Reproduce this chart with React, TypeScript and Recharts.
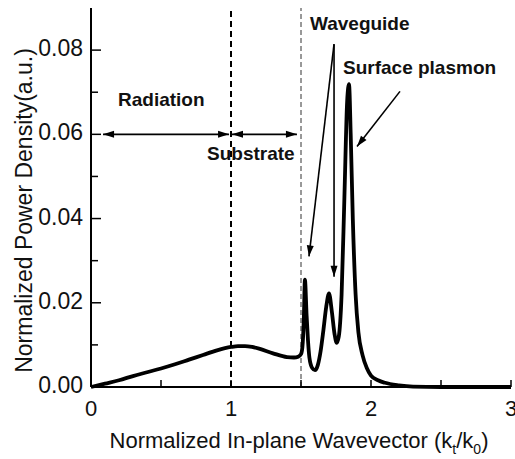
import React from "react";
import { LineChart, Line, XAxis, YAxis, ReferenceLine, ReferenceDot } from "recharts";

// in-plane wavevector kt/k0 and normalized power density
const kx = [
  0, 0.1, 0.2, 0.3, 0.4, 0.5, 0.6, 0.7, 0.8, 0.9, 1.0, 1.05, 1.1, 1.15, 1.2, 1.3, 1.4, 1.45,
  1.48, 1.5, 1.51, 1.52, 1.528, 1.54, 1.55, 1.56, 1.58, 1.6, 1.62, 1.64, 1.66, 1.68, 1.7,
  1.72, 1.74, 1.755, 1.77, 1.79, 1.81, 1.83, 1.843, 1.855, 1.87, 1.89, 1.91, 1.94, 1.97, 2.0,
  2.05, 2.1, 2.2, 2.3, 2.5, 3.0,
];
const density = [
  0, 0.0008, 0.0016, 0.0026, 0.0035, 0.0044, 0.0054, 0.0065, 0.0076, 0.0087, 0.0095, 0.0097,
  0.0097, 0.0095, 0.0091, 0.008, 0.0071, 0.007, 0.0072, 0.0078, 0.0095, 0.016, 0.0255, 0.017,
  0.011, 0.007, 0.0045, 0.004, 0.0052, 0.0085, 0.0135, 0.019, 0.0222, 0.018, 0.0125, 0.0105,
  0.012, 0.022, 0.045, 0.068, 0.0719, 0.06, 0.04, 0.022, 0.013, 0.0075, 0.0045, 0.0027, 0.0016,
  0.001, 0.0004, 0.0001, 0, 0,
];

const xTicks = [0, 0.5, 1, 1.5, 2, 2.5, 3];
const yTicks = [0, 0.01, 0.02, 0.03, 0.04, 0.05, 0.06, 0.07, 0.08];

// region boundaries (dashed lines)
const radiationEdge = 1;
const substrateEdge = 1.5;

const data = kx.map((k, i) => ({ k, p: density[i] }));

const FONT = "'Liberation Sans', Arial, sans-serif";

const XTick = (props: any) => {
  const { x, y, payload } = props;
  const major = Number.isInteger(payload.value);
  return (
    <g>
      <line x1={x} x2={x} y1={y} y2={y - 7} stroke="#000" strokeWidth={1.5} />
      {major && (
        <text x={x} y={y + 29} textAnchor="middle" fontSize={22} fontFamily={FONT} fill="#111">
          {payload.value}
        </text>
      )}
    </g>
  );
};

const YTick = (props: any) => {
  const { x, y, payload } = props;
  const major = Math.round(payload.value * 100) % 2 === 0;
  return (
    <g>
      <line x1={x} x2={x + (major ? 10 : 7)} y1={y} y2={y} stroke="#000" strokeWidth={1.5} />
      {major && (
        <text x={x - 8} y={y + 6} textAnchor="end" fontSize={23} fontFamily={FONT} fill="#111">
          {payload.value.toFixed(2)}
        </text>
      )}
    </g>
  );
};

const XTitle = (props: any) => {
  const { viewBox } = props;
  const cx = viewBox.x + viewBox.width / 2 - 2;
  return (
    <text x={cx} y={viewBox.y + 61} textAnchor="middle" fontSize={22} fontFamily={FONT} fill="#111">
      Normalized In-plane Wavevector (k
      <tspan fontSize={14} dy={6}>t</tspan>
      <tspan dy={-6}>/k</tspan>
      <tspan fontSize={14} dy={6}>0</tspan>
      <tspan dy={-6}>)</tspan>
    </text>
  );
};

const YTitle = (props: any) => {
  const { viewBox } = props;
  const cy = viewBox.y + viewBox.height / 2 + 13;
  return (
    <text
      x={32}
      y={cy}
      transform={`rotate(-90 32 ${cy})`}
      textAnchor="middle"
      fontSize={23}
      fontFamily={FONT}
      fill="#111"
    >
      Normalized Power Density(a.u.)
    </text>
  );
};

const head = (x1: number, y1: number, x2: number, y2: number) => {
  const a = Math.atan2(y2 - y1, x2 - x1);
  const L = 11;
  const W = 3.5;
  const bx = x2 - L * Math.cos(a);
  const by = y2 - L * Math.sin(a);
  const px = -Math.sin(a) * W;
  const py = Math.cos(a) * W;
  return `${x2},${y2} ${bx + px},${by + py} ${bx - px},${by - py}`;
};

const arrow = (both: boolean) => (p: any) => {
  const { x1, y1, x2, y2 } = p;
  return (
    <g>
      <line x1={x1} y1={y1} x2={x2} y2={y2} stroke="#000" strokeWidth={1.6} />
      <polygon points={head(x1, y1, x2, y2)} fill="#000" />
      {both && <polygon points={head(x2, y2, x1, y1)} fill="#000" />}
    </g>
  );
};

const note = (text: string) => (p: any) => (
  <text x={p.cx} y={p.cy} fontSize={19} fontWeight="bold" fontFamily={FONT} fill="#111">
    {text}
  </text>
);

export default function App() {
  return (
    <div style={{ position: "absolute", left: 0, top: 0, background: "#fff" }}>
      <LineChart width={515} height={459} data={data} margin={{ top: 8, right: 4, left: 0, bottom: 0 }}>
        <XAxis
          dataKey="k"
          type="number"
          domain={[0, 3]}
          ticks={xTicks}
          tick={<XTick />}
          tickSize={0}
          tickMargin={0}
          height={72}
          axisLine={{ stroke: "#000", strokeWidth: 2 }}
          label={<XTitle />}
          interval={0}
        />
        <XAxis
          xAxisId="top"
          orientation="top"
          type="number"
          domain={[0, 3]}
          height={0}
          tick={false}
          tickLine={false}
          axisLine={{ stroke: "#000", strokeWidth: 2 }}
        />
        <YAxis
          type="number"
          domain={[0, 0.09]}
          ticks={yTicks}
          tick={<YTick />}
          tickSize={0}
          tickMargin={0}
          width={91}
          axisLine={{ stroke: "#000", strokeWidth: 2 }}
          label={<YTitle />}
          interval={0}
        />
        <YAxis
          yAxisId="right"
          orientation="right"
          type="number"
          domain={[0, 0.09]}
          width={0}
          tick={false}
          tickLine={false}
          axisLine={{ stroke: "#000", strokeWidth: 2 }}
        />
        <ReferenceLine x={radiationEdge} stroke="#000" strokeWidth={2} strokeDasharray="6 4" />
        <ReferenceLine x={substrateEdge} stroke="#333" strokeWidth={1} strokeDasharray="5 3" />

        <ReferenceLine segment={[{ x: 0.086, y: 0.06 }, { x: 0.986, y: 0.06 }]} shape={arrow(true)} />
        <ReferenceLine segment={[{ x: 1.007, y: 0.06 }, { x: 1.471, y: 0.06 }]} shape={arrow(true)} />
        <ReferenceLine segment={[{ x: 1.736, y: 0.0814 }, { x: 1.557, y: 0.031 }]} shape={arrow(false)} />
        <ReferenceLine segment={[{ x: 1.736, y: 0.0814 }, { x: 1.736, y: 0.0262 }]} shape={arrow(false)} />
        <ReferenceLine segment={[{ x: 2.207, y: 0.0702 }, { x: 1.9, y: 0.0571 }]} shape={arrow(false)} />

        <ReferenceDot x={0.193} y={0.0667} r={0} shape={note("Radiation")} />
        <ReferenceDot x={0.829} y={0.054} r={0} shape={note("Substrate")} />
        <ReferenceDot x={1.564} y={0.0848} r={0} shape={note("Waveguide")} />
        <ReferenceDot x={1.8} y={0.0743} r={0} shape={note("Surface plasmon")} />

        <Line
          type="monotone"
          dataKey="p"
          stroke="#000"
          strokeWidth={3.8}
          dot={false}
          isAnimationActive={false}
        />
      </LineChart>
    </div>
  );
}
